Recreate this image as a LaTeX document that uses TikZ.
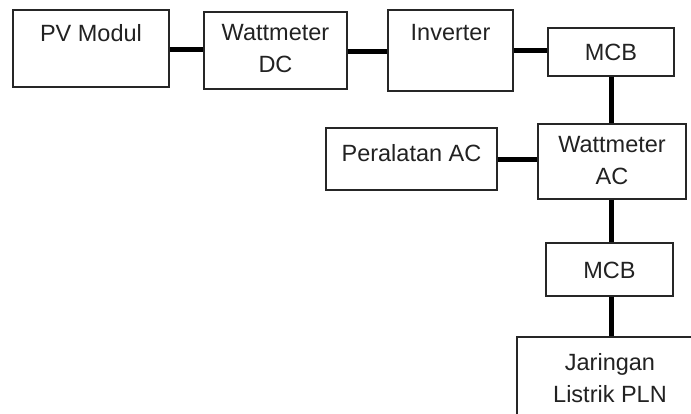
\documentclass[tikz,border=0pt]{standalone}
\usepackage{fontspec}
\setmainfont{Liberation Sans}
\definecolor{txtc}{HTML}{222222}
\begin{document}
\begin{tikzpicture}[x=1pt,y=-1pt,
  box/.style={draw=black!85, line width=1.3pt, rectangle, inner sep=0pt},
  txt/.style={text=txtc, font=\fontsize{23.5}{32}\selectfont, align=center, inner sep=0pt},
  wire/.style={line width=5pt, black}]
\clip (0,0) rectangle (691,414);
\fill[white] (0,0) rectangle (691,414);
% boxes
\node[box, minimum width=156, minimum height=77] (pv) at (91,48.5) {};
\node[box, minimum width=143, minimum height=77] (wdc) at (275.5,50.5) {};
\node[box, minimum width=125, minimum height=81] (inv) at (450.5,50.5) {};
\node[box, minimum width=126, minimum height=48] (mcb1) at (611,52) {};
\node[box, minimum width=148, minimum height=75] (wac) at (612,161.5) {};
\node[box, minimum width=171, minimum height=62] (per) at (411.5,159) {};
\node[box, minimum width=127, minimum height=53] (mcb2) at (609.5,269.5) {};
\node[box, minimum width=190, minimum height=100] (jar) at (612,387) {};
% texts
\node[txt] (tpv) at (91,33) {PV Modul};
\node[txt] (twdc) at (275.5,49) {Wattmeter\\DC};
\node[txt] (tinv) at (450.5,33) {Inverter};
\node[txt] (tmcb1) at (611,52) {MCB};
\node[txt] (twac) at (612,161) {Wattmeter\\AC};
\node[txt] (tper) at (411.5,153) {Peralatan AC};
\node[txt] (tmcb2) at (609.5,270) {MCB};
\node[txt] (tjar) at (610,378) {Jaringan\\Listrik PLN};
% wires
\coordinate (c1) at (pv.east |- 0,50);
\coordinate (c2) at (wdc.west |- 0,50);
\draw[wire] (c1) -- (c2);
\coordinate (c3) at (wdc.east |- 0,52);
\coordinate (c4) at (inv.west |- 0,52);
\draw[wire] (c3) -- (c4);
\coordinate (c5) at (inv.east |- 0,51);
\coordinate (c6) at (mcb1.west |- 0,51);
\draw[wire] (c5) -- (c6);
\coordinate (c7) at (611,0 |- mcb1.south);
\coordinate (c8) at (611,0 |- wac.north);
\draw[wire] (c7) -- (c8);
\coordinate (c9) at (per.east |- 0,160);
\coordinate (c10) at (wac.west |- 0,160);
\draw[wire] (c9) -- (c10);
\coordinate (c11) at (611,0 |- wac.south);
\coordinate (c12) at (611,0 |- mcb2.north);
\draw[wire] (c11) -- (c12);
\coordinate (c13) at (611,0 |- mcb2.south);
\coordinate (c14) at (611,0 |- jar.north);
\draw[wire] (c13) -- (c14);
\end{tikzpicture}
\end{document}
